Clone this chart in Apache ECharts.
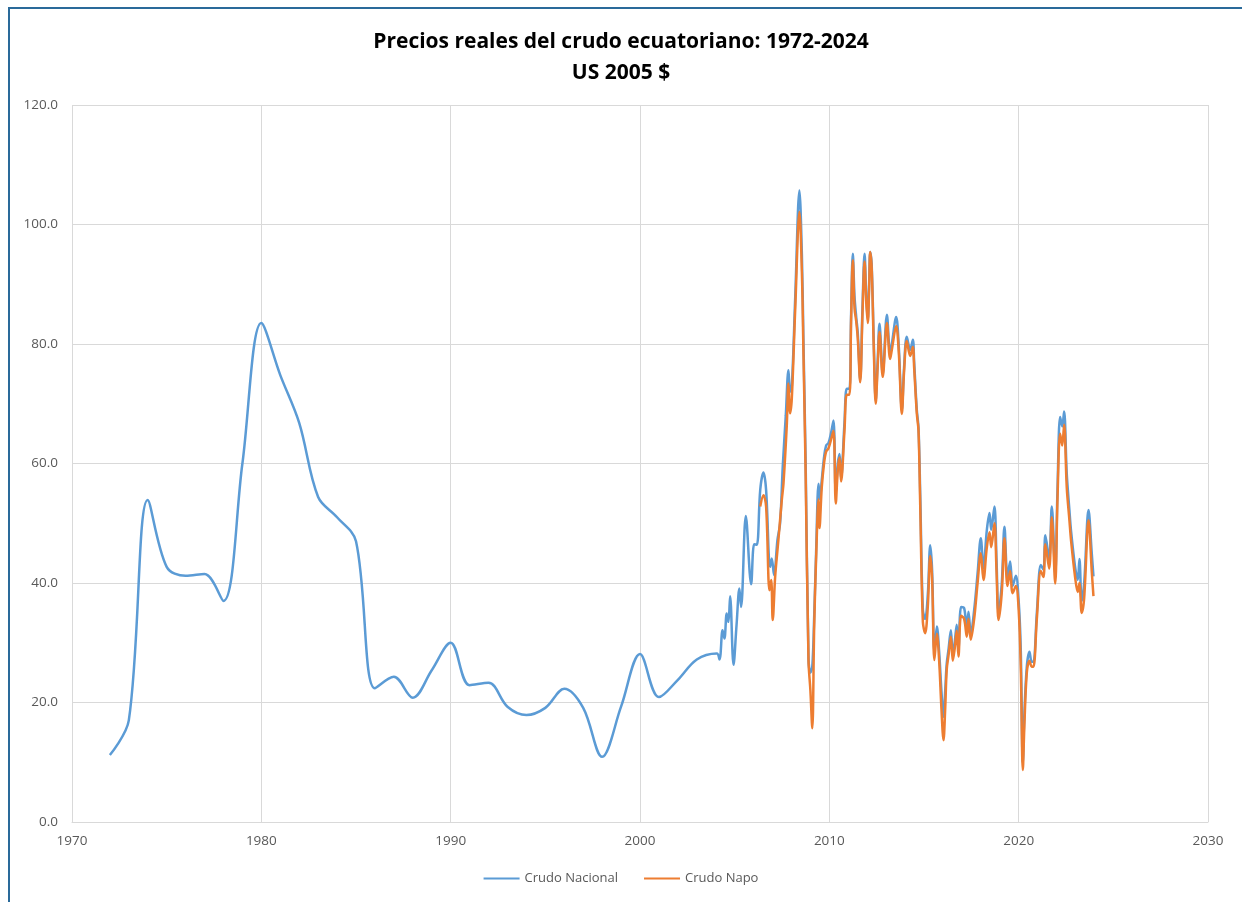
<!DOCTYPE html>
<html>
<head>
<meta charset="utf-8">
<script src="https://cdn.jsdelivr.net/npm/echarts@6/dist/echarts.min.js"></script>
<style>
  html, body { margin: 0; padding: 0; background: #fff; overflow: hidden; }
  #frame { position: absolute; left: 8px; top: 7px; width: 1250px; height: 910px; border: 2px solid #2a6a9a; box-sizing: border-box; }
  #chart { position: absolute; left: 0; top: 0; width: 1242px; height: 902px; }
</style>
</head>
<body>
<div id="frame"></div>
<div id="chart"></div>
<script>
// Crudo Nacional: yearly to 2004, then roughly monthly
const nacional = [
  [1972, 11.2], [1973, 17.0], [1974, 53.9], [1975, 42.7], [1976, 41.2], [1977, 41.5],
  [1978, 37.0], [1979, 60.0], [1980, 83.5], [1981, 74.8], [1982, 66.8], [1983, 54.4],
  [1984, 51.0], [1985, 47.0], [1986, 22.4], [1987, 24.3], [1988, 20.8], [1989, 25.4],
  [1990, 30.0], [1991, 22.9], [1992, 23.3], [1993, 19.3], [1994, 17.9], [1995, 19.1],
  [1996, 22.3], [1997, 19.1], [1998, 10.9], [1999, 19.3], [2000, 28.1], [2001, 20.9],
  [2002, 23.8], [2003, 27.2], [2004.06, 28.2],
  [2004.2, 27.2], [2004.36, 32.1], [2004.46, 30.7], [2004.58, 34.9], [2004.67, 33.5],
  [2004.76, 37.8], [2004.94, 26.3], [2005.1, 33], [2005.25, 39.1], [2005.34, 36.0],
  [2005.59, 51.2], [2005.87, 39.8], [2006.03, 46.5], [2006.17, 46.4], [2006.35, 55.6],
  [2006.52, 58.5], [2006.66, 55.6], [2006.87, 42.7], [2006.96, 44.1], [2007.08, 41.3],
  [2007.26, 47.2], [2007.4, 50], [2007.54, 59.5], [2007.7, 68], [2007.84, 75.6],
  [2007.93, 72], [2008.02, 73], [2008.2, 88], [2008.42, 105.7], [2008.55, 95],
  [2008.63, 81], [2008.75, 60], [2008.9, 27.4], [2009.0, 25], [2009.1, 26],
  [2009.2, 34.4], [2009.3, 45], [2009.43, 56.6], [2009.5, 54], [2009.6, 57.2],
  [2009.72, 61], [2009.83, 63], [2009.95, 63.4], [2010.09, 65.1], [2010.22, 67.2],
  [2010.34, 55], [2010.45, 60], [2010.54, 61.6], [2010.62, 57.5], [2010.8, 66.9],
  [2010.92, 72.5], [2011.06, 72.5], [2011.15, 85], [2011.24, 95.1], [2011.33, 88],
  [2011.42, 84.5], [2011.5, 82], [2011.63, 74], [2011.75, 86], [2011.86, 95.1],
  [2011.95, 88], [2012.03, 84], [2012.1, 90], [2012.16, 95.4], [2012.24, 93],
  [2012.35, 80], [2012.45, 70.5], [2012.55, 77], [2012.65, 83.4], [2012.82, 75],
  [2013.04, 84.9], [2013.21, 78.5], [2013.3, 80], [2013.53, 84.5], [2013.67, 79.5],
  [2013.83, 69], [2013.95, 76.2], [2014.09, 81.2], [2014.27, 79], [2014.41, 80.7],
  [2014.48, 77], [2014.62, 69], [2014.71, 66], [2014.8, 55], [2014.94, 35.5],
  [2015.06, 34], [2015.2, 38], [2015.33, 46.3], [2015.43, 42], [2015.55, 28.5],
  [2015.68, 32.7], [2015.8, 28.5], [2015.92, 22], [2016.03, 17.6], [2016.12, 22],
  [2016.2, 26.5], [2016.3, 29], [2016.42, 32.1], [2016.52, 28], [2016.62, 30],
  [2016.73, 33], [2016.82, 29], [2016.96, 36], [2017.12, 35.8], [2017.26, 32.5],
  [2017.35, 35.2], [2017.47, 31.5], [2017.65, 35.5], [2017.83, 41.6], [2018.0, 47.5],
  [2018.14, 42.5], [2018.32, 48.9], [2018.46, 51.7], [2018.55, 48.9], [2018.72, 52.8],
  [2018.83, 44], [2018.94, 35], [2019.11, 40], [2019.25, 49.4], [2019.41, 41],
  [2019.55, 43.6], [2019.68, 39.5], [2019.85, 41.2], [2020.0, 37], [2020.11, 29],
  [2020.22, 10], [2020.3, 18], [2020.43, 26], [2020.57, 28.5], [2020.69, 26.8],
  [2020.78, 26.8], [2020.96, 35], [2021.17, 43], [2021.31, 42.2], [2021.41, 48],
  [2021.61, 44], [2021.75, 52.8], [2021.93, 41.5], [2022.05, 55.6], [2022.19, 67.8],
  [2022.3, 66.2], [2022.4, 68.7], [2022.54, 58.3], [2022.68, 52.2], [2022.77, 48.6],
  [2022.98, 42.7], [2023.12, 40.5], [2023.21, 44], [2023.33, 37], [2023.46, 40],
  [2023.69, 52.2], [2023.86, 45], [2023.95, 41.1]
];

// Crudo Napo: from mid 2006
const napo = [
  [2006.35, 52.8], [2006.52, 54.7], [2006.66, 52.8], [2006.84, 38.8], [2006.93, 40.5],
  [2007.01, 33.8], [2007.14, 41.1], [2007.31, 47.2], [2007.49, 53.9], [2007.58, 56.7],
  [2007.75, 66.2], [2007.84, 73.4], [2007.93, 68.4], [2008.02, 71], [2008.2, 86],
  [2008.42, 102.1], [2008.55, 92], [2008.63, 79], [2008.75, 58], [2008.9, 27],
  [2009.0, 22], [2009.1, 15.7], [2009.2, 32.7], [2009.3, 44], [2009.43, 54],
  [2009.48, 49.2], [2009.6, 56], [2009.72, 60], [2009.83, 62], [2009.95, 62.5],
  [2010.09, 64], [2010.22, 65.5], [2010.34, 53.3], [2010.45, 59], [2010.54, 61],
  [2010.62, 57], [2010.8, 65.5], [2010.92, 71.5], [2011.06, 71.5], [2011.15, 84],
  [2011.24, 94], [2011.33, 86], [2011.42, 83.8], [2011.5, 81], [2011.63, 73.6],
  [2011.75, 85], [2011.86, 93.8], [2011.95, 87], [2012.03, 83.5], [2012.1, 89],
  [2012.16, 95.4], [2012.24, 92.5], [2012.35, 79], [2012.45, 70], [2012.55, 76],
  [2012.65, 82], [2012.82, 74.5], [2013.04, 83.5], [2013.21, 77.5], [2013.3, 79],
  [2013.53, 83], [2013.67, 78.5], [2013.83, 68.3], [2013.95, 75.5], [2014.09, 80.5],
  [2014.27, 78], [2014.41, 79.5], [2014.48, 76], [2014.62, 68.4], [2014.71, 65.5],
  [2014.8, 53], [2014.94, 33.5], [2015.06, 31.6], [2015.2, 36], [2015.33, 44.5],
  [2015.43, 40.5], [2015.55, 27.1], [2015.68, 31.5], [2015.8, 27], [2015.92, 19],
  [2016.03, 13.7], [2016.12, 19], [2016.2, 25.5], [2016.3, 28], [2016.42, 31],
  [2016.52, 27], [2016.62, 29], [2016.73, 32], [2016.82, 27.7], [2016.96, 34.5],
  [2017.12, 34], [2017.26, 31], [2017.35, 34], [2017.47, 30.5], [2017.65, 34],
  [2017.83, 40], [2018.0, 45], [2018.14, 40.5], [2018.32, 46], [2018.46, 48.5],
  [2018.55, 46], [2018.72, 50], [2018.83, 42], [2018.94, 33.8], [2019.11, 38.5],
  [2019.25, 47.5], [2019.41, 39.5], [2019.55, 42], [2019.68, 38.3], [2019.85, 39.5],
  [2020.0, 35.5], [2020.11, 26], [2020.22, 8.7], [2020.3, 16], [2020.43, 25],
  [2020.57, 27], [2020.69, 26], [2020.78, 26], [2020.96, 34], [2021.17, 42],
  [2021.31, 41], [2021.41, 46.5], [2021.61, 42.4], [2021.75, 51], [2021.93, 39.9],
  [2022.05, 54], [2022.19, 65], [2022.3, 63], [2022.4, 66.5], [2022.54, 56],
  [2022.68, 50.5], [2022.77, 47], [2022.98, 41], [2023.12, 38.5], [2023.21, 40],
  [2023.33, 35], [2023.46, 37.5], [2023.69, 50.5], [2023.86, 42], [2023.95, 37.8]
];

const seriesNames = ['Crudo Nacional', 'Crudo Napo'];
const titleLines = ['Precios reales del crudo ecuatoriano: 1972-2024', 'US 2005 $'];

const chart = echarts.init(document.getElementById('chart'));
const gridColor = '#d9d9d9';
const labelColor = '#595959';
const font = '"Open Sans", sans-serif';

chart.setOption({
  animation: false,
  title: {
    text: titleLines.join('\n'),
    left: 'center',
    top: 22,
    textStyle: { fontFamily: font, fontSize: 21, fontWeight: 'bold', color: '#000', lineHeight: 31 }
  },
  legend: {
    data: seriesNames,
    bottom: 12,
    left: 'center',
    icon: 'rect',
    itemWidth: 36,
    itemHeight: 2,
    itemGap: 26,
    textStyle: { fontFamily: font, fontSize: 13, color: labelColor }
  },
  grid: { left: 72, top: 105, right: 34, bottom: 80 },
  xAxis: {
    type: 'value',
    min: 1970,
    max: 2030,
    interval: 10,
    axisLine: { lineStyle: { color: gridColor } },
    axisTick: { show: false },
    splitLine: { lineStyle: { color: gridColor } },
    axisLabel: { margin: 12, fontFamily: font, fontSize: 13.5, color: labelColor, formatter: v => String(v) }
  },
  yAxis: {
    type: 'value',
    min: 0,
    max: 120,
    interval: 20,
    axisLine: { show: false },
    axisTick: { show: false },
    splitLine: { lineStyle: { color: gridColor } },
    axisLabel: {
      margin: 14,
      fontFamily: font, fontSize: 13.5, color: labelColor,
      formatter: v => v.toFixed(1)
    }
  },
  series: [
    {
      name: seriesNames[0],
      type: 'line',
      data: nacional,
      smooth: 0.35,
      symbol: 'none',
      lineStyle: { width: 2.5, color: '#5b9bd5' },
      itemStyle: { color: '#5b9bd5' }
    },
    {
      name: seriesNames[1],
      type: 'line',
      data: napo,
      smooth: 0.35,
      symbol: 'none',
      lineStyle: { width: 2.5, color: '#ed7d31' },
      itemStyle: { color: '#ed7d31' }
    }
  ]
});
</script>
</body>
</html>
